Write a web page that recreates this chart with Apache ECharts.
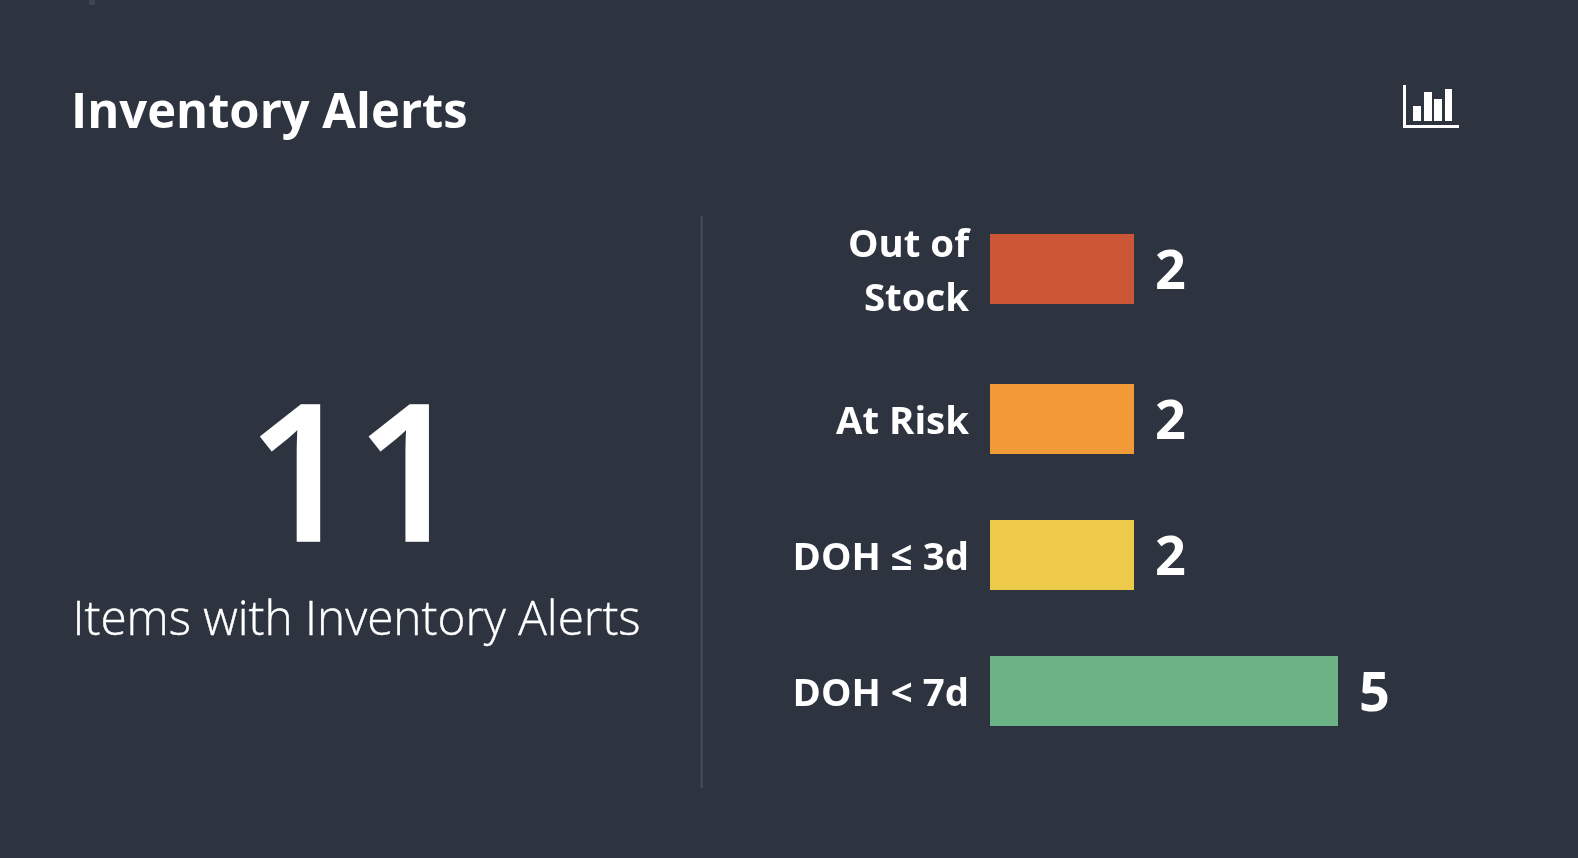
<!DOCTYPE html>
<html><head><meta charset="utf-8">
<style>html,body{margin:0;padding:0;background:#2d333f}#c{width:1578px;height:858px}</style>
<script src="https://cdn.jsdelivr.net/npm/echarts@6/dist/echarts.min.js"></script>
</head><body><div id="c"></div>
<script>
const categories = ['Out of\nStock', 'At Risk', 'DOH ≤ 3d', 'DOH < 7d'];
const values = [2, 2, 2, 5];
const barColors = ['#cb5737', '#f29a38', '#eeca4a', '#6bb384'];
const titleText = 'Inventory Alerts';
const totalText = '11';
const subtitleText = 'Items with Inventory Alerts';
const iconBars = [[1413,106,8,15],[1424,92,8,29],[1434,99,8,22],[1445,89,7,32]];

const rowCenters = [269, 419, 555, 691];
const barH = 70, barLeft = 990, fullWidth = 348;
const font = '"Open Sans"';
const chart = echarts.init(document.getElementById('c'));
const grid = [], xAxis = [], yAxis = [], series = [];
categories.forEach((c, i) => {
  grid.push({left: barLeft, width: fullWidth, top: rowCenters[i] - barH / 2, height: barH, containLabel: false});
  xAxis.push({type: 'value', gridIndex: i, min: 0, max: 5, show: false});
  yAxis.push({type: 'category', gridIndex: i, data: [c],
    axisLine: {show: false}, axisTick: {show: false},
    axisLabel: {margin: 21, align: 'right',
      formatter: v => v.split('\n').map(s => '{a|' + s + '}').join('\n'),
      rich: {a: {color: '#fff', fontFamily: font, fontWeight: 700, fontSize: 38.4, lineHeight: 54, padding: [8, 0, 0, 0], align: 'right'}}}});
  series.push({type: 'bar', xAxisIndex: i, yAxisIndex: i, data: [values[i]],
    barWidth: barH, barMinHeight: 144, silent: true,
    itemStyle: {color: barColors[i]},
    label: {show: true, position: 'right', distance: 21, offset: [0, 5], color: '#fff', fontFamily: font, fontWeight: 700, fontSize: 54}});
});
const g = [
  {type: 'rect', shape: {x: 700.5, y: 216, width: 2.5, height: 572}, style: {fill: '#414957'}},
  {type: 'rect', shape: {x: 89, y: 0, width: 6, height: 5}, style: {fill: '#3f4551'}},
  {type: 'text', x: 71, y: 114, style: {text: titleText, fill: '#fff', font: '700 48.9px ' + font, textVerticalAlign: 'middle'}},
  {type: 'text', x: 355.5, y: 487, style: {text: totalText, fill: '#fff', stroke: '#fff', lineWidth: 1.5, font: '600 190px ' + font, textAlign: 'center', textVerticalAlign: 'middle'}},
  {type: 'text', x: 356.5, y: 621, style: {text: subtitleText, fill: '#fff', stroke: '#fff', lineWidth: 0.4, font: '300 47.7px ' + font, textAlign: 'center', textVerticalAlign: 'middle'}},
  {type: 'rect', shape: {x: 1403, y: 85, width: 3, height: 43}, style: {fill: '#fff'}},
  {type: 'rect', shape: {x: 1403, y: 125, width: 56, height: 3}, style: {fill: '#fff'}}
];
iconBars.forEach(b => g.push({type: 'rect', shape: {x: b[0], y: b[1], width: b[2], height: b[3]}, style: {fill: '#fff'}}));
chart.setOption({backgroundColor: '#2d333f', animation: false, grid, xAxis, yAxis, series, graphic: g});
</script></body></html>
